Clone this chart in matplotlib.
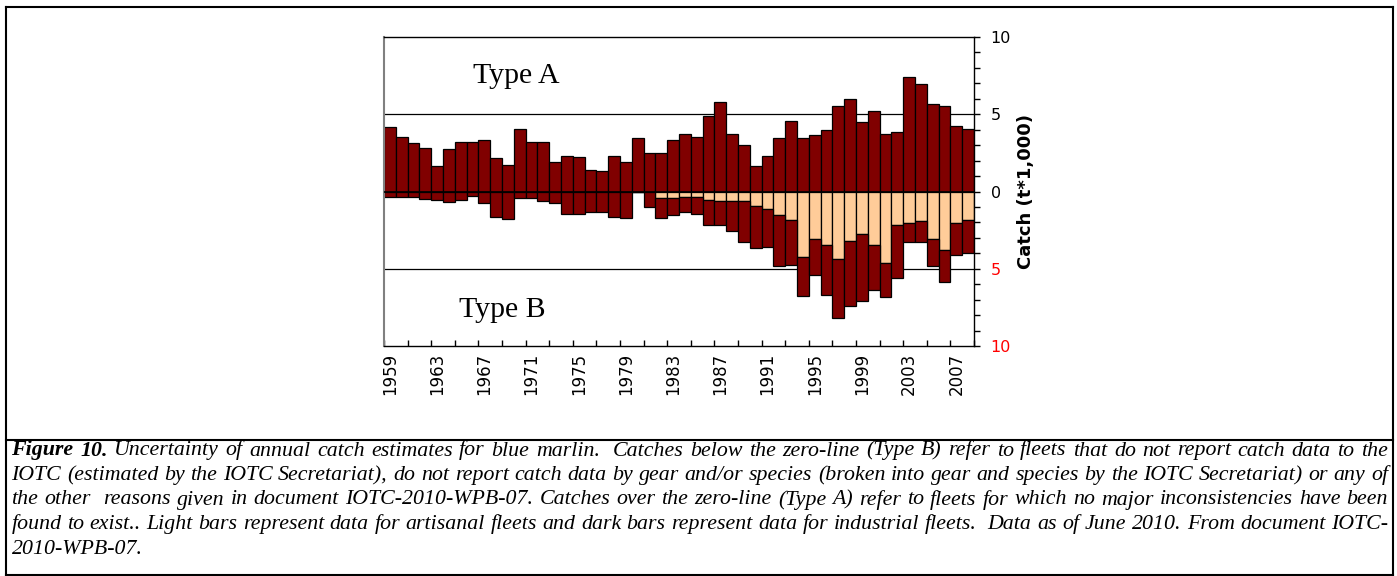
import matplotlib
matplotlib.use('Agg')
import matplotlib.pyplot as plt
from matplotlib.ticker import MultipleLocator
from matplotlib.lines import Line2D
import numpy as np

W, H = 1397, 576

years = list(range(1959, 2009))
# Type A: catches over the zero line (t*1,000)
type_a = [4.15, 3.53, 3.12, 2.84, 1.67, 2.78, 3.18, 3.18, 3.33, 2.16,
          1.73, 4.02, 3.18, 3.18, 1.92, 2.29, 2.22, 1.39, 1.30, 2.29,
          1.94, 3.46, 2.50, 2.50, 3.33, 3.72, 3.53, 4.89, 5.81, 3.72,
          3.03, 1.67, 2.29, 3.46, 4.57, 3.46, 3.65, 3.95, 5.53, 5.96,
          4.49, 5.19, 3.72, 3.87, 7.39, 6.94, 5.68, 5.53, 4.21, 4.02]
# Type B, artisanal fleets (light bars)
type_b_artisanal = [0, 0, 0, 0, 0, 0, 0, 0, 0, 0,
                    0, 0, 0, 0, 0, 0, 0, 0, 0, 0,
                    0, 0, 0, 0.40, 0.40, 0.34, 0.38, 0.53, 0.62, 0.62,
                    0.62, 0.96, 1.15, 1.53, 1.85, 4.27, 3.10, 3.46, 4.40, 3.18,
                    2.78, 3.46, 4.64, 2.18, 2.05, 1.94, 3.10, 3.78, 2.05, 1.85]
# Type B, industrial fleets (dark bars)
type_b_industrial = [0.34, 0.34, 0.34, 0.49, 0.58, 0.68, 0.58, 0.32, 0.75, 1.67,
                     1.79, 0.41, 0.41, 0.62, 0.75, 1.45, 1.45, 1.30, 1.30, 1.66,
                     1.72, 0.00, 1.00, 1.30, 1.14, 0.96, 1.07, 1.61, 1.52, 1.91,
                     2.64, 2.71, 2.45, 3.26, 2.89, 2.52, 2.31, 3.25, 3.79, 4.23,
                     4.29, 2.91, 2.22, 3.44, 1.24, 1.35, 1.69, 2.05, 2.03, 2.10]
label_years = list(range(1959, 2009, 4))
ytick_vals = [-10, -5, 0, 5, 10]
ytick_text = ['10', '5', '0', '5', '10']

caption_lines = [
    "Figure 10. Uncertainty of annual catch estimates for blue marlin.  Catches below the zero-line (Type B) refer to fleets that do not report catch data to the",
    "IOTC (estimated by the IOTC Secretariat), do not report catch data by gear and/or species (broken into gear and species by the IOTC Secretariat) or any of",
    "the other  reasons given in document IOTC-2010-WPB-07. Catches over the zero-line (Type A) refer to fleets for which no major inconsistencies have been",
    "found to exist.. Light bars represent data for artisanal fleets and dark bars represent data for industrial fleets.  Data as of June 2010. From document IOTC-",
    "2010-WPB-07.",
]

dark = '#800000'
light = '#FFCC99'


def fx(x):
    return x / W


def fy(y):
    return 1 - y / H


fig = plt.figure(figsize=(W / 100, H / 100), dpi=100)
ax = fig.add_axes([fx(384), fy(346), 590 / W, 309 / H])

neg_light = [-v for v in type_b_artisanal]
neg_dark = [-v for v in type_b_industrial]
ax.bar(years, type_a, width=1.0, color=dark, edgecolor='black', linewidth=0.9, zorder=2)
ax.bar(years, neg_light, width=1.0, color=light, edgecolor='black', linewidth=0.9, zorder=2)
ax.bar(years, neg_dark, bottom=neg_light, width=1.0, color=dark, edgecolor='black',
       linewidth=0.9, zorder=2)
ax.axhline(0, color='black', lw=1.2, zorder=3)
ax.axhline(5, color='black', lw=0.9, zorder=1)
ax.axhline(-5, color='black', lw=0.9, zorder=1)

ax.set_xlim(1958.5, 2008.5)
ax.set_ylim(-10, 10)

ax.yaxis.tick_right()
ax.yaxis.set_label_position('right')
ax.set_yticks(ytick_vals)
ax.set_yticklabels(ytick_text)
for lab, v in zip(ax.get_yticklabels(), ytick_vals):
    lab.set_color('red' if v < 0 else 'black')
ax.yaxis.set_minor_locator(MultipleLocator(1))
ax.tick_params(axis='y', which='both', direction='out', length=4, width=1,
               pad=8, labelsize=11.5)
ax.set_ylabel('Catch (t*1,000)', fontweight='bold', fontsize=13, labelpad=4)

ax.set_xticks(label_years)
ax.set_xticklabels([str(y) for y in label_years], rotation=90)
ax.set_xticks(np.arange(1958.5, 2009, 2), minor=True)
ax.tick_params(axis='x', which='major', length=0, pad=5, labelsize=12)
ax.tick_params(axis='x', which='minor', direction='in', length=4, width=1)

ax.spines['left'].set_color('#808080')
ax.spines['left'].set_linewidth(1.5)
for s in ['top', 'right', 'bottom']:
    ax.spines[s].set_color('black')
    ax.spines[s].set_linewidth(1)

fig.text(fx(516.5), fy(83.3), 'Type A', ha='center', va='baseline',
         fontsize=21.5, family='Liberation Serif')
fig.text(fx(502.5), fy(316.7), 'Type B', ha='center', va='baseline',
         fontsize=21.5, family='Liberation Serif')

# outer frame and separator
lw = 1.5
for (x0, y0, x1, y1) in [(5.5, 6.5, 1393, 6.5), (5.5, 6.5, 5.5, 575), (1393, 6.5, 1393, 575),
                         (5.5, 575, 1393, 575), (5.5, 439.5, 1393, 439.5)]:
    fig.add_artist(Line2D([fx(x0), fx(x1)], [fy(y0), fy(y1)], color='black', lw=lw))

# justified caption; font size chosen so the fullest line just fits
renderer = fig.canvas.get_renderer()
left, right = 11.5, 1388
baselines = [455.5, 480, 504.5, 529, 553.5]
probe_size = 11
widest = 0
for line in caption_lines[:-1]:
    t = fig.text(0, 0, line, fontsize=probe_size, family='Liberation Serif', style='italic')
    widest = max(widest, t.get_window_extent(renderer).width)
    t.remove()
cap_size = probe_size * (right - left) / widest * 0.995

for li, line in enumerate(caption_lines):
    tokens = line.split(' ')
    arts = []
    for i, tok in enumerate(tokens):
        bold = (li == 0 and i < 2)
        t = fig.text(0, fy(baselines[li]), tok, fontsize=cap_size, family='Liberation Serif',
                     style='italic', weight='bold' if bold else 'normal',
                     ha='left', va='baseline')
        arts.append(t)
    widths = [t.get_window_extent(renderer).width if t.get_text() else 0 for t in arts]
    if li < len(caption_lines) - 1:
        gap = (right - left - sum(widths)) / (len(tokens) - 1)
    else:
        gap = 0.25 * cap_size * 100 / 72
    x = left
    for t, w in zip(arts, widths):
        t.set_x(fx(x))
        x += w + gap

fig.savefig('out.png', dpi=100)
